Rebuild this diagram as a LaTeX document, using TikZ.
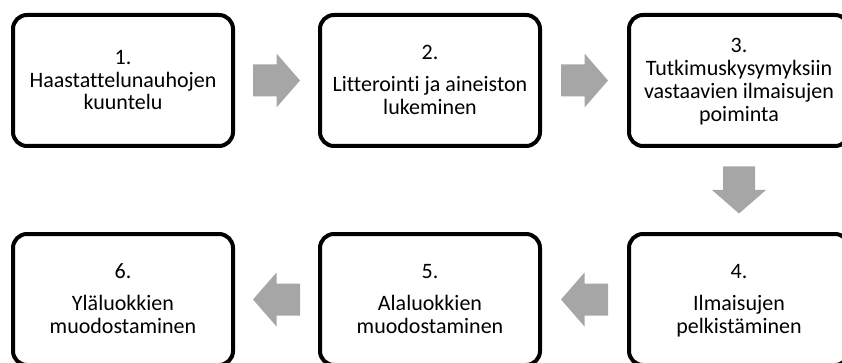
\documentclass[tikz,border=0pt]{standalone}
\usepackage{fontspec}
\setmainfont{Carlito}[Ligatures=NoCommon]
\usetikzlibrary{calc}
\definecolor{arrgray}{RGB}{166,166,166}
\newcommand\topstr{\rule{0pt}{18.1pt}}
\newcommand\botstr{\rule[-4.7pt]{0pt}{4.7pt}}
\tikzset{
  stepbox/.style={draw=black, line width=4pt, rounded corners=14pt, fill=white,
    minimum width=220pt, minimum height=131pt, align=center, inner sep=0pt,
    font=\fontsize{22}{22.8}\selectfont},
  blockarrow/.style={fill=arrgray, draw=none}
}
\newcommand\blockarr[2]{%
  \fill[blockarrow, shift={(#1)}, rotate=#2]
    (-23.5,-16) -- (0,-16) -- (0,-27) -- (23.5,0) -- (0,27) -- (0,16) -- (-23.5,16) -- cycle;}
\begin{document}
\begin{tikzpicture}[x=1pt,y=-1pt]
\useasboundingbox (0,0) rectangle (842,363);
\node[stepbox] (b1) at (123,80.5) {\topstr1.\\Haastattelunauhojen\\kuuntelu\botstr};
\node[stepbox] (b2) at (430,80.5) {\topstr2.\\[9pt]Litterointi ja aineiston\\lukeminen\botstr};
\node[stepbox] (b3) at (739,80.5) {\topstr3.\\Tutkimuskysymyksiin\\vastaavien ilmaisujen\\poiminta\botstr};
\node[stepbox] (b4) at (739,299.5) {\topstr4.\\[9pt]Ilmaisujen\\pelkistäminen\botstr};
\node[stepbox] (b5) at (430,299.5) {\topstr5.\\[9pt]Alaluokkien\\muodostaminen\botstr};
\node[stepbox] (b6) at (123,299.5) {\topstr6.\\[9pt]Yläluokkien\\muodostaminen\botstr};
\coordinate (m1) at ($(b1.east)!0.5!(b2.west)$);
\coordinate (m2) at ($(b2.east)!0.5!(b3.west)$);
\coordinate (m3) at ($(b3.south)!0.5!(b4.north)$);
\coordinate (m4) at ($(b4.west)!0.5!(b5.east)$);
\coordinate (m5) at ($(b5.west)!0.5!(b6.east)$);
\blockarr{m1}{0}
\blockarr{m2}{0}
\blockarr{m3}{-90}
\blockarr{m4}{180}
\blockarr{m5}{180}
\end{tikzpicture}
\end{document}
